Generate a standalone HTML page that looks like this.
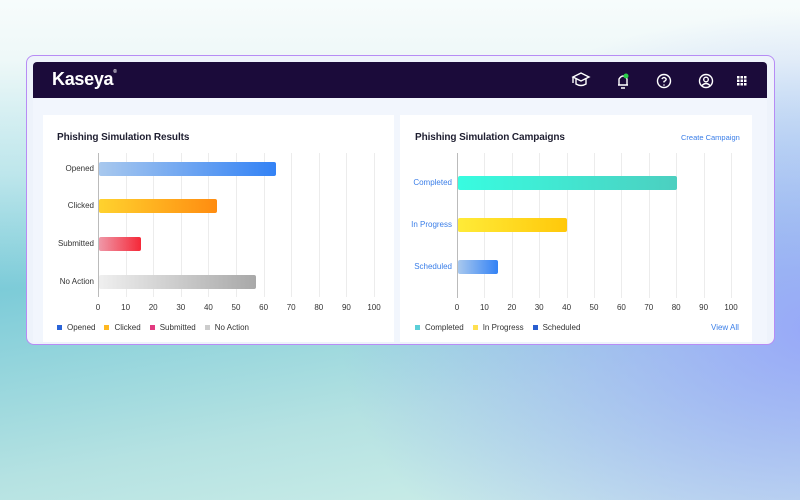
<!DOCTYPE html>
<html><head><meta charset="utf-8"><style>
*{margin:0;padding:0;box-sizing:border-box}
body{width:800px;height:500px;overflow:hidden;font-family:"Liberation Sans",sans-serif;position:relative;
background:linear-gradient(170deg,#5fc3d2 0%,#7ccbd8 45%,#b5e2e2 75%,#d3f1ea 100%);}
.bgtop{position:absolute;left:0;top:0;width:800px;height:500px;
background:linear-gradient(180deg,#f7fcfc 0%,#eef8f8 12%,rgba(240,250,250,0.6) 35%,rgba(255,255,255,0) 58%);}
.bgr{position:absolute;left:0;top:0;width:800px;height:500px;
background:radial-gradient(ellipse 480px 320px at 820px 330px,rgba(150,165,250,0.95),rgba(170,180,245,0) 100%);}
.a{position:absolute}
.frame{left:26px;top:55px;width:749px;height:290px;border:1.5px solid #b78cf5;border-radius:8px;background:#eef3fb}
.hdr{left:33px;top:62px;width:734px;height:36px;background:#1b0b3a;border-radius:4px 4px 0 0}
.content{left:33px;top:98px;width:734px;height:244px;background:#f2f6fd}
.card{background:#fff;top:115px;height:227px}
.t{font-size:10px;color:#1e1e30;font-weight:bold;letter-spacing:-0.1px}
.lab{font-size:8px;color:#333;text-align:right}
.tick{font-size:8px;color:#333;text-align:center;width:20px}
.g{width:1px;background:#ececec}
.bar{height:14px;border-radius:2px}
.lg{font-size:8px;color:#333;white-space:nowrap}
.lg span.i{margin-right:9px}
.dot{width:5px;height:5px;display:inline-block;margin-right:5px;vertical-align:middle}
</style></head><body>
<div class="bgtop"></div><div class="bgr"></div>
<div class="a frame"></div>
<div class="a content"></div>
<div class="a hdr"></div>
<div class="a" style="left:52px;top:69px;color:#fff;font-size:18px;font-weight:bold;letter-spacing:-0.3px">Kaseya<span style="font-size:5px;vertical-align:top">®</span></div>
<svg class="a" style="left:570px;top:70px" width="185" height="22" viewBox="0 0 185 22">
<g fill="none" stroke="#fff" stroke-width="1.4">
<path d="M3 7 L11 3 L19 7 L11 11 Z"/><path d="M6 9 v5 q5 3 10 0 v-5"/><path d="M3 7 v6"/>
<path d="M48 15 h10 M49 15 v-6 q4 -6 8 0 v6 M51 18 h4"/>
<circle cx="94" cy="11" r="6.5"/><path d="M91.8 9 q2.2 -3 4.4 0 q0 1.5 -2.2 2.5 v1"/>
<circle cx="136" cy="11" r="6.5"/><circle cx="136" cy="9.5" r="2.3"/><path d="M132 15.5 q4 -4 8 0"/>
</g>
<circle cx="56" cy="6" r="2.5" fill="#2ad04a"/><circle cx="94" cy="15" r="0.8" fill="#fff"/>
<g fill="#fff"><rect x="167" y="6" width="2.5" height="2.5"/><rect x="170.5" y="6" width="2.5" height="2.5"/><rect x="174" y="6" width="2.5" height="2.5"/>
<rect x="167" y="9.5" width="2.5" height="2.5"/><rect x="170.5" y="9.5" width="2.5" height="2.5"/><rect x="174" y="9.5" width="2.5" height="2.5"/>
<rect x="167" y="13" width="2.5" height="2.5"/><rect x="170.5" y="13" width="2.5" height="2.5"/><rect x="174" y="13" width="2.5" height="2.5"/></g>
</svg>

<div class="a card" style="left:43px;width:351px"></div>
<div class="a card" style="left:400px;width:352px"></div>
<div id="lg"></div>

<div class="a t" style="left:57px;top:132px">Phishing Simulation Results</div>
<div class="a" style="left:98px;top:153px;width:1px;height:144px;background:#bbb"></div>
<div class="a bar" style="left:99px;top:162px;width:177px;background:linear-gradient(90deg,#a8c8ee,#3382f5)"></div>
<div class="a bar" style="left:99px;top:199px;width:118px;background:linear-gradient(90deg,#ffd22e,#ff8c10)"></div>
<div class="a bar" style="left:99px;top:237px;width:42px;background:linear-gradient(90deg,#ef98a8,#f52838)"></div>
<div class="a bar" style="left:99px;top:275px;width:157px;background:linear-gradient(90deg,#efefef,#a8a8a8)"></div>
<div class="a lab" style="left:36px;top:164px;width:58px">Opened</div>
<div class="a lab" style="left:36px;top:201px;width:58px">Clicked</div>
<div class="a lab" style="left:36px;top:239px;width:58px">Submitted</div>
<div class="a lab" style="left:36px;top:277px;width:58px">No Action</div>
<div class="a lg" style="left:57px;top:323px"><span class="i"><span class="dot" style="background:#2a64d8"></span>Opened</span><span class="i"><span class="dot" style="background:#ffb820"></span>Clicked</span><span class="i"><span class="dot" style="background:#e23a80"></span>Submitted</span><span class="i"><span class="dot" style="background:#ccc"></span>No Action</span></div>

<div class="a t" style="left:415px;top:132px">Phishing Simulation Campaigns</div>
<div class="a" style="left:681px;top:133px;font-size:7.5px;color:#3a7ee8">Create Campaign</div>
<div class="a" style="left:457px;top:153px;width:1px;height:145px;background:#bbb"></div>
<div class="a bar" style="left:458px;top:176px;width:219px;background:linear-gradient(90deg,#38fce0,#4ccfc0)"></div>
<div class="a bar" style="left:458px;top:218px;width:109px;background:linear-gradient(90deg,#ffeb38,#ffc80a)"></div>
<div class="a bar" style="left:458px;top:260px;width:40px;background:linear-gradient(90deg,#a8c8ee,#3382f5)"></div>
<div class="a lab" style="left:392px;top:178px;width:60px;color:#3a7ee8">Completed</div>
<div class="a lab" style="left:392px;top:220px;width:60px;color:#3a7ee8">In Progress</div>
<div class="a lab" style="left:392px;top:262px;width:60px;color:#3a7ee8">Scheduled</div>
<div class="a lg" style="left:415px;top:323px"><span class="i"><span class="dot" style="background:#5ccfd8"></span>Completed</span><span class="i"><span class="dot" style="background:#ffe050"></span>In Progress</span><span class="i"><span class="dot" style="background:#2a5ed0"></span>Scheduled</span></div>
<div class="a" style="left:711px;top:323px;font-size:8px;color:#3a7ee8">View All</div>

<script>
function grid(x0,step,top,h,ty){
 for(let i=0;i<=10;i++){
  const x=x0+step*i;
  if(i>0){const g=document.createElement('div');g.className='a g';g.style.cssText=`left:${x}px;top:${top}px;height:${h}px`;document.body.insertBefore(g,document.getElementById('lg'));}
  const t=document.createElement('div');t.className='a tick';t.style.cssText=`left:${x-10}px;top:${ty}px`;t.textContent=i*10;document.body.appendChild(t);
 }
}
grid(98,27.6,153,144,303);
grid(457,27.4,153,145,303);
</script>
</body></html>
